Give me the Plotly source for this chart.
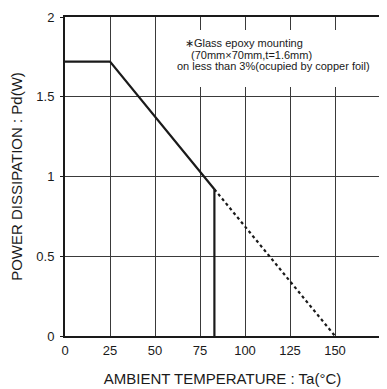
import plotly.graph_objects as go

# ---- data ----
temp_solid = [0, 25, 83]
pd_solid = [1.72, 1.72, 0.92]
temp_cut = [83, 83]
pd_cut = [0.92, 0]
temp_dot = [83, 150]
pd_dot = [0.92, 0]

x_ticks = [0, 25, 50, 75, 100, 125, 150, 175]
x_tick_labels = ["0", "25", "50", "75", "100", "125", "150", "175"]
y_ticks = [0, 0.5, 1, 1.5, 2]
y_tick_labels = ["0", "0.5", "1", "1.5", "2"]

note_lines = ["∗Glass epoxy mounting",
              " (70mm×70mm,t=1.6mm)",
              "on less than 3%(ocupied by copper foil)"]
note_x = [65.8, 67.3, 61.0]
note_y = [1.834, 1.763, 1.693]

x_title = "AMBIENT TEMPERATURE : Ta(°C)"
y_title = "POWER DISSIPATION : Pd(W)"

FONT = "Liberation Sans, Arial, sans-serif"
INK = "#1a1a1a"

fig = go.Figure()
fig.add_trace(go.Scatter(x=temp_solid, y=pd_solid, mode="lines",
                         line=dict(color=INK, width=2.2), hoverinfo="skip"))
fig.add_trace(go.Scatter(x=temp_cut, y=pd_cut, mode="lines",
                         line=dict(color=INK, width=2.2), hoverinfo="skip"))
fig.add_trace(go.Scatter(x=temp_dot, y=pd_dot, mode="lines",
                         line=dict(color=INK, width=2.2, dash="dot"), hoverinfo="skip"))

# white background behind the note (interrupts grid lines)
fig.add_shape(type="rect", xref="x", yref="y", x0=58.5, x1=173.5, y0=1.561, y1=1.918,
              fillcolor="white", line=dict(width=0), layer="above")

for txt, xx, yy in zip(note_lines, note_x, note_y):
    fig.add_annotation(x=xx, y=yy, xref="x", yref="y", text=txt, showarrow=False,
                       xanchor="left", yanchor="middle",
                       font=dict(family=FONT, size=11, color=INK))

# the page adds an 8px body margin, so the figure is sized to fit the window
fig.update_layout(
    width=379, height=381,
    margin=dict(l=57, r=7, t=9, b=53),
    paper_bgcolor="white", plot_bgcolor="white",
    showlegend=False,
    font=dict(family=FONT, color=INK),
)
fig.update_xaxes(
    range=[0, 175], tickvals=x_ticks, ticktext=x_tick_labels,
    showgrid=True, gridcolor="#3a3a3a", gridwidth=1,
    showline=True, linecolor=INK, linewidth=2, mirror=True,
    ticks="outside", ticklen=1, tickcolor="white", ticklabelstandoff=0,
    tickfont=dict(family=FONT, size=13, color=INK),
    zeroline=False, automargin=False,
    title=dict(text=x_title, font=dict(family=FONT, size=15, color=INK), standoff=17),
)
fig.update_yaxes(
    range=[0, 2], tickvals=y_ticks, ticktext=y_tick_labels,
    showgrid=True, gridcolor="#3a3a3a", gridwidth=1,
    showline=True, linecolor=INK, linewidth=2, mirror=True,
    ticks="outside", ticklen=3, tickcolor=INK, ticklabelstandoff=3,
    tickfont=dict(family=FONT, size=13, color=INK),
    zeroline=False, automargin=False,
    title=dict(text=y_title, font=dict(family=FONT, size=15, color=INK), standoff=11),
)

fig.write_html("out.html")
